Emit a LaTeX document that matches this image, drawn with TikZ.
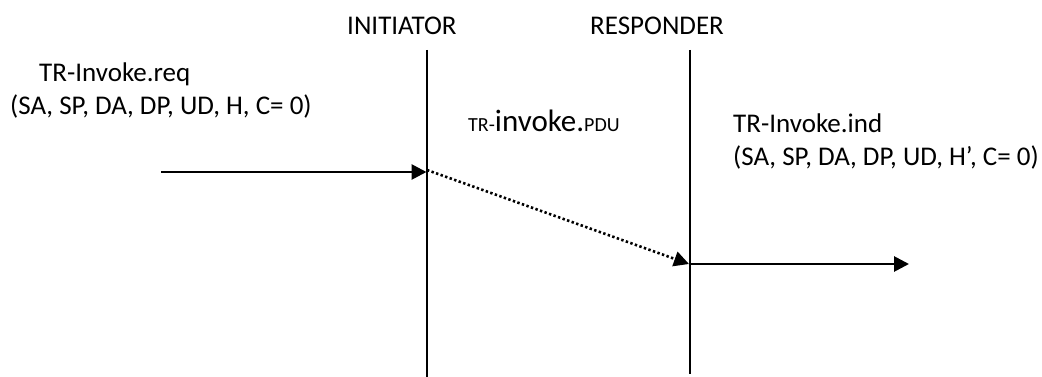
\documentclass[tikz,border=0pt]{standalone}
\usepackage{fontspec}
\setmainfont{Carlito}
\usetikzlibrary{arrows.meta}
\begin{document}
\begin{tikzpicture}[x=1pt,y=-1pt,
  lbl/.style={anchor=base west,inner sep=0pt,font=\fontsize{27}{33}\selectfont},
  lifeline/.style={line width=2.2pt},
  msg/.style={line width=2.8pt,-{Triangle[length=15pt,width=15pt]}},
  pdumsg/.style={line width=2.6pt,dash pattern=on 2.4pt off 2.4pt,-{Triangle[length=15pt,width=15pt]}}]
\useasboundingbox (0,0) rectangle (1042,377);
\node[lbl] (init) at (347,35) {INITIATOR};
\node[lbl] (resp) at (590,35) {RESPONDER};
\coordinate (itop) at (427,50);
\coordinate (ibot) at (427,377);
\coordinate (rtop) at (690,50);
\coordinate (rbot) at (690,374);
\draw[lifeline] (itop) -- (ibot);
\draw[lifeline] (rtop) -- (rbot);
\node[lbl] (req) at (39,82) {TR-Invoke.req};
\node[lbl] (reqp) at (10,115) {(SA, SP, DA, DP, UD, H, C= 0)};
\node[lbl] (pdu) at (468,132) {{\fontsize{20}{24}\selectfont TR-}{\fontsize{31}{36}\selectfont invoke.}{\fontsize{20}{24}\selectfont PDU}};
\node[lbl] (ind) at (733,133) {TR-Invoke.ind};
\node[lbl] (indp) at (733,166) {(SA, SP, DA, DP, UD, H’, C= 0)};
\coordinate (reqstart) at (161,172);
\coordinate (ihit) at (426.5,172);
\coordinate (pstart) at (427,170);
\coordinate (rhit) at (689,264);
\coordinate (rstart) at (690,264);
\coordinate (indend) at (909,264);
\draw[msg] (reqstart) -- (ihit);
\draw[pdumsg] (pstart) -- (rhit);
\draw[msg] (rstart) -- (indend);
\end{tikzpicture}
\end{document}
